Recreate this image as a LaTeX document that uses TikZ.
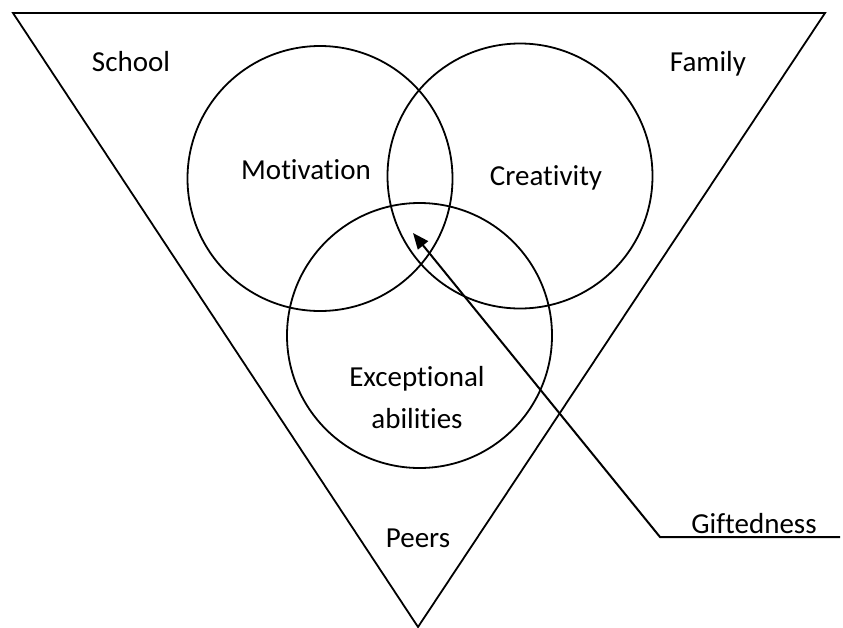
\documentclass[tikz,border=0pt]{standalone}
\usepackage{fontspec}
\setmainfont{Carlito}[Ligatures=NoCommon,RawFeature=-liga]
\usetikzlibrary{arrows.meta}
\begin{document}
\begin{tikzpicture}[x=1pt,y=-1pt,
  every node/.style={font=\fontsize{29}{35}\selectfont},
  ring/.style={circle,draw,line width=1.8pt,minimum size=265pt,inner sep=0pt},
  lbl/.style={inner sep=0pt,anchor=base},
  edge/.style={line width=1.8pt,line join=miter}]
\useasboundingbox (0,0) rectangle (843,627);
% triangle
\coordinate (tl) at (13,13);
\coordinate (tr) at (825,13);
\coordinate (bv) at (418,627);
\draw[edge] (tl) -- (tr) -- (bv) -- cycle;
% circles
\node[ring] (mot) at (320,178.5) {};
\node[ring] (cre) at (520,176) {};
\node[ring] (exc) at (419.5,335.5) {};
% labels
\node[lbl] (school) at (131,71) {School};
\node[lbl] (family) at (708,71) {Family};
\node[lbl] (motl) at (306,179) {Motivation};
\node[lbl] (crel) at (546,185) {Creativity};
\node[lbl] (excl) at (417,386) {Exceptional};
\node[lbl] (abil) at (417,428) {abilities};
\node[lbl] (peers) at (418,547) {Peers};
\node[lbl] (gift) at (754,533) {Giftedness};
% giftedness pointer
\coordinate (gend) at (840,537);
\coordinate (gcorner) at (660,537);
\coordinate (gtip) at (413,233);
\draw[line width=2pt,-{Triangle[length=16pt,width=13pt]}] (gend) -- (gcorner) -- (gtip);
\end{tikzpicture}
\end{document}
